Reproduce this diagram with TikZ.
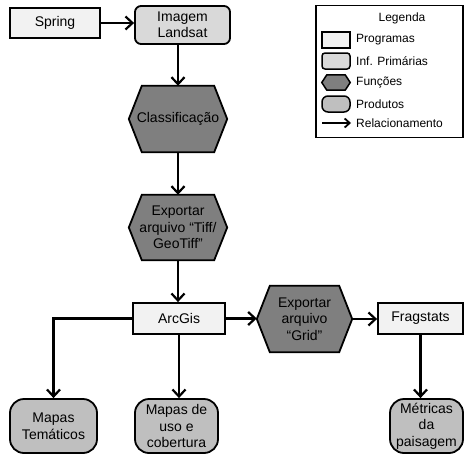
\documentclass[tikz,border=0pt]{standalone}
\usepackage{fontspec}
\setmainfont{Liberation Sans}
\usetikzlibrary{arrows.meta,backgrounds}
\definecolor{cprog}{HTML}{F2F2F2}
\definecolor{cinf}{HTML}{D9D9D9}
\definecolor{cfun}{HTML}{7F7F7F}
\definecolor{cprod}{HTML}{BFBFBF}
\tikzset{
  base/.style={draw=black,line width=1.8pt,align=center,inner sep=0pt,
    font=\fontsize{14}{16.5}\selectfont},
  prog/.style={base,fill=cprog},
  infp/.style={base,fill=cinf,rounded corners=6pt},
  prod/.style={base,fill=cprod,rounded corners=14pt},
  hexa/.style={align=center,inner sep=0pt,font=\fontsize{14}{16.5}\selectfont},
  conn/.style={line width=2.2pt,-{Straight Barb[length=7pt,width=13pt,line width=2.2pt]}},
  leg/.style={font=\fontsize{12}{14}\selectfont,anchor=west,inner sep=0pt},
}
\newcommand{\hexdraw}[2]{%
  \draw[line width=1.8pt,fill=cfun,line join=miter]
    (#1.west) -- ([xshift=#2]#1.north west) -- ([xshift=-#2]#1.north east)
    -- (#1.east) -- ([xshift=-#2]#1.south east) -- ([xshift=#2]#1.south west) -- cycle;}
\begin{document}
\begin{tikzpicture}[x=1pt,y=-1pt]
\useasboundingbox (0,0) rectangle (465,455);
% main nodes
\node[prog,minimum width=90pt,minimum height=30pt] (spring) at (55,23) {Spring};
\node[infp,minimum width=95pt,minimum height=38pt] (landsat) at (182.5,25) {Imagem\\Landsat};
\node[hexa,minimum width=98pt,minimum height=66pt] (classif) at (178,119) {Classificação};
\node[hexa,minimum width=98pt,minimum height=65pt] (export1) at (178,227.5) {Exportar\\arquivo “Tiff/\\GeoTiff”};
\node[prog,minimum width=92pt,minimum height=31pt] (arcgis) at (179,318.5) {ArcGis};
\node[hexa,minimum width=95pt,minimum height=66pt] (grid) at (304.5,319) {Exportar\\arquivo\\“Grid”};
\node[prog,minimum width=85pt,minimum height=31pt] (frag) at (420.5,318.5) {Fragstats};
\node[prod,minimum width=87pt,minimum height=54pt] (mapas) at (53.5,426) {Mapas\\Temáticos};
\node[prod,minimum width=83pt,minimum height=54pt] (uso) at (176.5,426) {Mapas de\\uso e\\cobertura};
\node[prod,minimum width=73pt,minimum height=54pt] (metricas) at (426.5,426) {Métricas\\da\\paisagem};
% legend
\node[draw=black,line width=1.5pt,minimum width=147pt,minimum height=132pt,inner sep=0pt] (legend) at (389.5,71.5) {};
\node[font=\fontsize{12}{14}\selectfont,inner sep=0pt] (legtitle) at (402,18) {Legenda};
\node[prog,line width=1.5pt,minimum width=28pt,minimum height=16pt] (lprog) at (336,40) {};
\node[infp,line width=1.5pt,rounded corners=3pt,minimum width=28pt,minimum height=16pt] (linf) at (336,61) {};
\node[hexa,minimum width=28pt,minimum height=15pt] (lfun) at (336,82.5) {};
\node[prod,line width=1.5pt,rounded corners=6pt,minimum width=28pt,minimum height=16pt] (lprod) at (336,104) {};
\coordinate (lrel1) at (322,123);
\coordinate (lrel2) at (351,123);
\node[leg] (tprog) at (356,40) {Programas};
\node[leg] (tinf) at (356,61) {Inf. Primárias};
\node[leg] (tfun) at (356,82.5) {Funções};
\node[leg] (tprod) at (356,104) {Produtos};
\node[leg] (trel) at (356,123) {Relacionamento};
% hexagons in background
\begin{scope}[on background layer]
\hexdraw{classif}{13pt}
\hexdraw{export1}{13pt}
\hexdraw{grid}{13pt}
\draw[line width=1.5pt,fill=cfun,line join=miter]
    (lfun.west) -- ([xshift=5pt]lfun.north west) -- ([xshift=-5pt]lfun.north east)
    -- (lfun.east) -- ([xshift=-5pt]lfun.south east) -- ([xshift=5pt]lfun.south west) -- cycle;
\end{scope}
% connectors
\draw[conn] (spring.east) -- (spring.east -| landsat.west);
\draw[conn] (landsat.south -| classif.north) -- (classif.north);
\draw[conn] (classif.south) -- (export1.north);
\draw[conn] (export1.south) -- (export1.south |- arcgis.north);
\draw[conn] (arcgis.east) -- (arcgis.east -| grid.west);
\draw[conn] (grid.east) -- (grid.east -| frag.west);
\draw[conn] (arcgis.west) -| (mapas.north);
\draw[conn] (arcgis.south) -- (arcgis.south |- uso.north);
\draw[conn] (frag.south) -- (frag.south |- metricas.north);
\draw[line width=1.8pt,-{Straight Barb[length=5pt,width=9pt,line width=1.8pt]}] (lrel1) -- (lrel2);
\end{tikzpicture}
\end{document}
